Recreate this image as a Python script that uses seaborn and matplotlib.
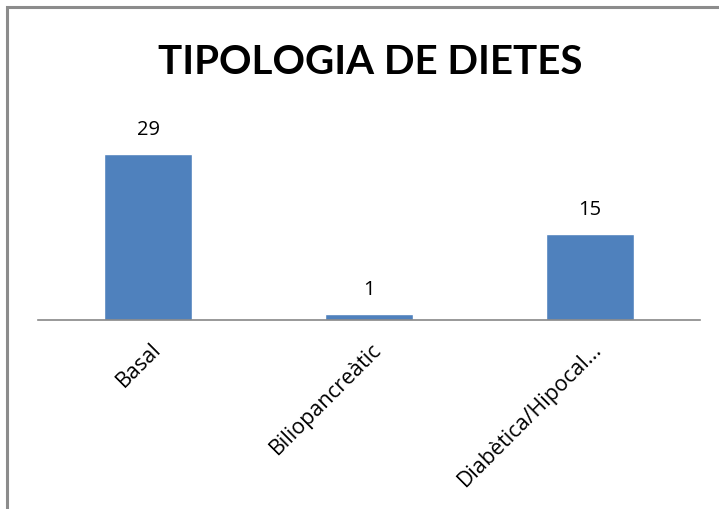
import matplotlib
matplotlib.use("Agg")
import matplotlib.pyplot as plt
import matplotlib.transforms as mtransforms
import seaborn as sns
import pandas as pd

categories = ["Basal", "Biliopancreàtic", "Diabètica/Hipocal..."]
counts = [29, 1, 15]
title = "TIPOLOGIA DE DIETES"

df = pd.DataFrame({"dieta": categories, "n": counts})

sns.set_theme(style="white")
plt.rcParams["font.family"] = ["Lato", "DejaVu Sans"]

W, H = 719, 510
fig = plt.figure(figsize=(W / 100, H / 100), dpi=100)
fig.patch.set_facecolor("white")

# plot area in pixel units
left, right, base, top = 38, 700, 321, 110
ax = fig.add_axes([left / W, (H - base) / H, (right - left) / W, (base - top) / H])

bar_color = "#4F81BD"
sns.barplot(data=df, x="dieta", y="n", color=bar_color, width=0.4,
            saturation=1, ax=ax)

ax.set_xlim(-0.5, len(categories) - 0.5)
ax.set_ylim(0, (base - top) / 5.72)
ax.set_xlabel("")
ax.set_ylabel("")
ax.set_yticks([])
for side in ("left", "right", "top"):
    ax.spines[side].set_visible(False)
ax.spines["bottom"].set_color("#888888")
ax.spines["bottom"].set_linewidth(1.2)
ax.set_facecolor("none")

ax.tick_params(axis="x", length=0, pad=13, labelcolor="#000000")
ax.set_xticks(range(len(categories)))
ax.set_xticklabels(categories, rotation=45, ha="right", va="top",
                   rotation_mode="anchor", fontsize=15.5,
                   family=["Open Sans", "DejaVu Sans"])
shift = mtransforms.ScaledTranslation(2 / 100, 0, fig.dpi_scale_trans)
for lab in ax.get_xticklabels():
    lab.set_transform(lab.get_transform() + shift)

for cont in ax.containers:
    ax.bar_label(cont, labels=[str(v) for v in counts], padding=11,
                 fontsize=14.5, color="#000000",
                 family=["Open Sans", "DejaVu Sans"])

fig.text(370 / W, 1 - 63 / H, title, ha="center", va="center",
         fontsize=29, fontweight="bold", color="#000000")

# chart frame (top and left edges fall inside the image)
frame = plt.Rectangle((7 / W, -0.1), 1.2, 1 - 8 / H + 0.1, transform=fig.transFigure,
                      fill=False, edgecolor="#8c8c8c", linewidth=2.2)
fig.add_artist(frame)

fig.savefig("out.png", dpi=100)
